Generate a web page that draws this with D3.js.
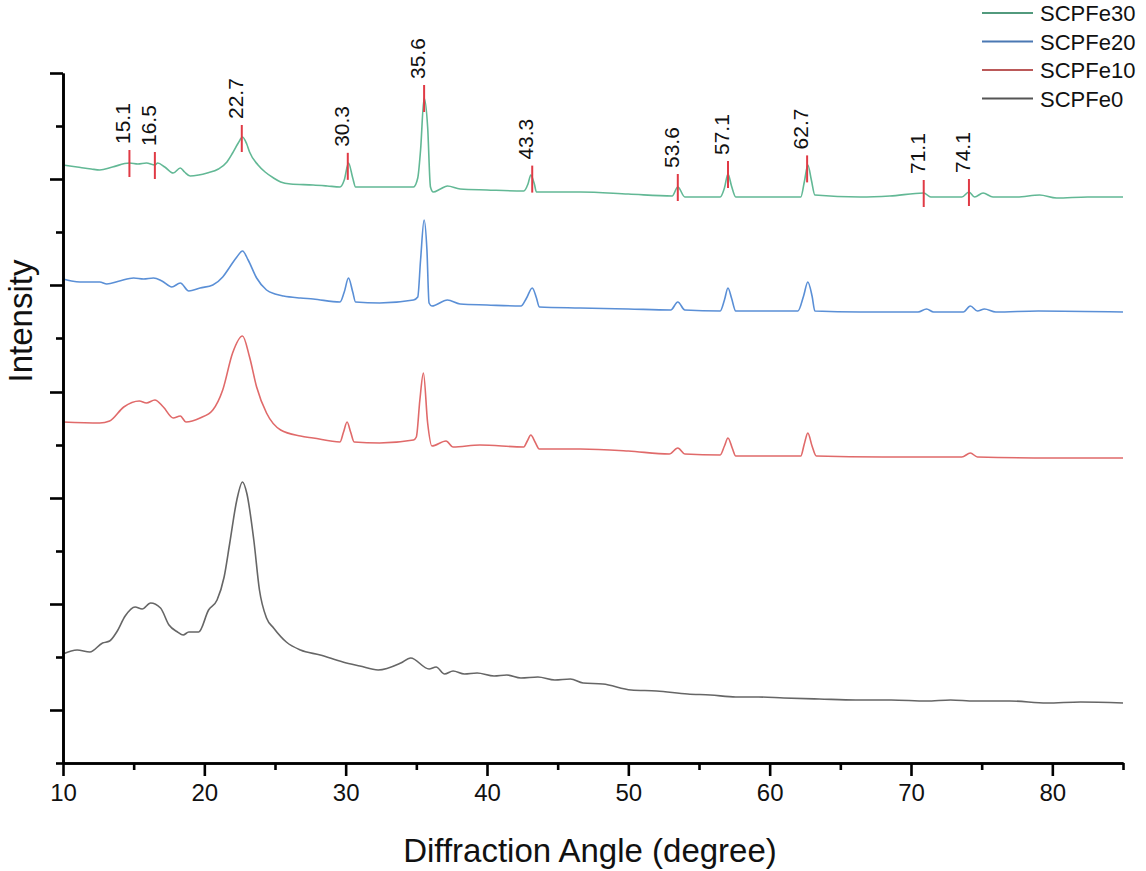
<!DOCTYPE html>
<html>
<head>
<meta charset="utf-8">
<script src="https://cdn.jsdelivr.net/npm/d3@7"></script>
<style>
  html, body { margin: 0; padding: 0; background: #fff; }
  svg { display: block; font-family: "Liberation Sans", Arial, sans-serif; }
</style>
</head>
<body>
<svg id="chart" width="1146" height="871"></svg>
<script>
// ---------------- DATA ----------------
const seriesNames = ["SCPFe30", "SCPFe20", "SCPFe10", "SCPFe0"];
const seriesColors = ["#62b895", "#5a8fd6", "#e06a6a", "#666666"];

// [diffraction angle (deg), intensity (a.u., offset stacked)]
const scpfe30 = [
  [10.0,598],[11.0,596],[12.0,594],[12.6,593],[13.5,596],[14.7,600],[15.3,599],[15.9,600],
  [16.5,598],[16.7,600],[17.2,596],[17.8,590],[18.3,595],[18.6,591],[19.0,587],[19.6,588],
  [20.2,590],[21.0,594],[21.6,601],[22.0,610],[22.4,620],[22.7,626],[23.0,619],[23.2,611],
  [23.8,598],[24.3,591],[24.9,585],[25.4,581],[26.1,579],[27.7,578],[28.7,577],[29.6,576],
  [29.9,583],[30.2,600],[30.5,585],[30.7,576],[32.4,576],[34.8,576],[35.1,585],[35.3,613],
  [35.55,665],[35.8,636],[36.0,576],[36.2,571],[36.7,574],[37.2,577],[38.1,574],[40.0,573],
  [42.6,572],[42.9,579],[43.1,588],[43.35,579],[43.5,571],[46.6,571],[50.0,569],[53.1,567],
  [53.5,576],[54.0,566],[56.5,566],[56.8,575],[57.05,589],[57.3,577],[57.6,566],[60.0,566],
  [62.2,566],[62.45,581],[62.7,598],[62.95,583],[63.2,568],[66.4,566],[68.5,567],[70.9,570],
  [71.4,566],[73.6,566],[74.1,571],[74.5,566],[75.1,570],[75.8,566],[77.5,566],[79.1,568],
  [80.3,565],[82.5,566],[85.0,566]
];
const scpfe20 = [
  [10.0,484],[10.6,482],[11.2,481],[12.6,481],[13.1,479],[14.0,482],[15.0,485],[15.7,484],
  [16.4,485],[17.0,482],[17.7,476],[18.3,480],[18.9,472],[19.7,475],[20.6,478],[21.3,486],
  [21.8,496],[22.3,506],[22.7,512],[23.1,503],[23.7,485],[24.4,473],[25.0,469],[25.6,467],
  [26.8,465],[27.7,464],[29.6,461],[29.9,471],[30.2,485],[30.5,471],[30.7,461],[32.4,460],
  [34.8,463],[35.1,466],[35.3,503],[35.55,543],[35.75,513],[35.9,460],[36.1,457],[37.2,463],
  [38.1,459],[40.0,458],[42.4,457],[42.8,465],[43.2,475],[43.5,465],[43.7,456],[46.6,455],
  [50.0,454],[53.0,453],[53.5,461],[54.0,453],[56.5,452],[56.8,463],[57.05,475],[57.3,465],
  [57.6,452],[62.0,452],[62.4,467],[62.7,481],[63.0,467],[63.2,452],[66.4,451],[70.5,451],
  [71.1,454],[71.6,451],[73.7,451],[74.2,457],[74.7,452],[75.2,454],[76.0,451],[79.0,452],
  [85.0,451]
];
const scpfe10 = [
  [10.0,341],[12.6,340],[13.3,342],[14.3,356],[15.4,362],[15.9,360],[16.5,363],[17.1,356],
  [17.8,345],[18.3,347],[18.7,341],[19.7,345],[20.6,353],[21.3,373],[22.0,410],[22.7,427],
  [23.2,406],[23.7,376],[24.4,350],[25.4,333],[26.8,327],[27.7,325],[29.6,321],[29.85,331],
  [30.1,341],[30.35,331],[30.6,321],[32.4,320],[34.8,323],[35.0,326],[35.25,363],[35.5,390],
  [35.8,340],[36.1,317],[37.1,322],[37.6,316],[39.5,318],[42.6,316],[42.85,322],[43.1,328],
  [43.4,321],[43.7,314],[46.6,314],[50.0,312],[52.9,309],[53.5,315],[54.0,309],[56.5,308],
  [56.8,317],[57.05,325],[57.35,315],[57.6,307],[62.2,307],[62.45,319],[62.7,330],[63.0,317],
  [63.3,307],[68.0,306],[73.6,306],[74.2,310],[74.7,306],[80.0,305],[85.0,305]
];
const scpfe0 = [
  [10.0,109],[11.0,113],[11.9,111],[12.8,120],[13.3,122],[13.8,131],[14.4,147],[15.1,156],
  [15.6,154],[16.2,160],[16.9,155],[17.5,138],[18.1,131],[18.5,128],[18.9,131],[19.6,131],
  [20.3,153],[20.9,163],[21.4,186],[21.8,220],[22.3,263],[22.7,281],[23.0,270],[23.5,223],
  [23.9,173],[24.4,145],[24.9,135],[25.8,121],[26.8,113],[28.2,108],[29.8,101],[31.0,97],
  [32.3,93],[33.9,100],[34.6,105],[35.9,94],[36.4,96],[37.0,89],[37.6,92],[38.4,89],[39.3,90],
  [40.5,87],[41.4,88],[42.4,85],[43.6,86],[44.8,83],[45.9,84],[46.8,80],[48.2,79],[50.2,73],
  [52.0,72],[54.2,69],[55.8,68],[57.6,66],[59.2,66],[61.0,65],[63.5,64],[66.1,63],[68.6,63],
  [71.1,62],[72.8,63],[74.5,62],[77.0,62],[79.6,60],[82.0,61],[85.0,60]
];
const seriesData = [scpfe30, scpfe20, scpfe10, scpfe0];

// peak markers: position (deg) and label
const peakAngles = [14.7, 16.5, 22.65, 30.15, 35.55, 43.2, 53.5, 57.05, 62.65, 70.9, 74.1];
const peakLabels = ["15.1", "16.5", "22.7", "30.3", "35.6", "43.3", "53.6", "57.1", "62.7", "71.1", "74.1"];

const xMajorTicks = [10, 20, 30, 40, 50, 60, 70, 80];
const xMinorTicks = [15, 25, 35, 45, 55, 65, 75, 85];
const yMajorTicks = [53, 159, 265, 371, 478, 584, 690];
const yMinorTicks = [0, 106, 212, 318, 425, 531, 637];

// ---------------- CHART ----------------
const svg = d3.select("#chart");
const x = d3.scaleLinear().domain([10, 85]).range([63, 1123]);
const y = d3.scaleLinear().domain([0, 690]).range([763, 73]);

const line = d3.line().x(d => x(d[0])).y(d => y(d[1])).curve(d3.curveMonotoneX);

// series (draw bottom first)
for (let i = seriesData.length - 1; i >= 0; i--) {
  svg.append("path")
    .datum(seriesData[i])
    .attr("fill", "none")
    .attr("stroke", seriesColors[i])
    .attr("stroke-width", 1.6)
    .attr("stroke-linejoin", "round")
    .attr("d", line);
}

// axes
function styleAxis(g) {
  g.selectAll("path.domain").attr("stroke", "#000").attr("stroke-width", 2.6);
  g.selectAll(".tick line").attr("stroke", "#000").attr("stroke-width", 2.6);
}
const gxMinor = svg.append("g").attr("transform", "translate(0,763)")
  .call(d3.axisBottom(x).tickValues(xMinorTicks).tickSize(7).tickSizeOuter(0).tickFormat(""));
styleAxis(gxMinor);
const gxMajor = svg.append("g").attr("transform", "translate(0,763)")
  .call(d3.axisBottom(x).tickValues(xMajorTicks).tickSize(13).tickSizeOuter(0).tickPadding(8));
styleAxis(gxMajor);
gxMajor.selectAll(".tick text").attr("font-size", 24).attr("fill", "#111")
  .attr("font-family", "'Liberation Sans', Arial, sans-serif");

const gyMinor = svg.append("g").attr("transform", "translate(63,0)")
  .call(d3.axisLeft(y).tickValues(yMinorTicks).tickSize(7).tickSizeOuter(0).tickFormat(""));
styleAxis(gyMinor);
const gyMajor = svg.append("g").attr("transform", "translate(63,0)")
  .call(d3.axisLeft(y).tickValues(yMajorTicks).tickSize(13).tickSizeOuter(0).tickFormat(""));
styleAxis(gyMajor);

// axis titles
svg.append("text")
  .attr("x", 590).attr("y", 862)
  .attr("text-anchor", "middle")
  .attr("font-size", 33).attr("fill", "#111")
  .text("Diffraction Angle (degree)");
svg.append("text")
  .attr("transform", "translate(32,321) rotate(-90)")
  .attr("text-anchor", "middle")
  .attr("font-size", 33).attr("fill", "#111")
  .text("Intensity");

// peak markers on top series
function valueAt(data, a) {
  const i = d3.bisector(d => d[0]).left(data, a);
  if (i <= 0) return data[0][1];
  if (i >= data.length) return data[data.length - 1][1];
  const p = data[i - 1], q = data[i];
  const t = (a - p[0]) / (q[0] - p[0]);
  return p[1] + t * (q[1] - p[1]);
}
const peaks = peakAngles.map((a, i) => ({ a, label: peakLabels[i], v: valueAt(scpfe30, a) }));
const pg = svg.append("g");
pg.selectAll("line").data(peaks).join("line")
  .attr("x1", d => x(d.a)).attr("x2", d => x(d.a))
  .attr("y1", d => y(d.v) - 13).attr("y2", d => y(d.v) + 14)
  .attr("stroke", "#e03a45").attr("stroke-width", 2);
pg.selectAll("text").data(peaks).join("text")
  .attr("transform", d => `translate(${x(d.a) + 1},${y(d.v) - 19}) rotate(-90)`)
  .attr("text-anchor", "start")
  .attr("font-size", 21).attr("fill", "#111")
  .text(d => d.label);

// legend
const lg = svg.append("g");
seriesNames.forEach((n, i) => {
  const yy = 13 + i * 28.5;
  lg.append("line").attr("x1", 982).attr("x2", 1033).attr("y1", yy).attr("y2", yy)
    .attr("stroke", d3.color(seriesColors[i]).darker(0.5)).attr("stroke-width", 2);
  lg.append("text").attr("x", 1040).attr("y", yy + 8)
    .attr("font-size", 22).attr("fill", "#111").text(n);
});
</script>
</body>
</html>
